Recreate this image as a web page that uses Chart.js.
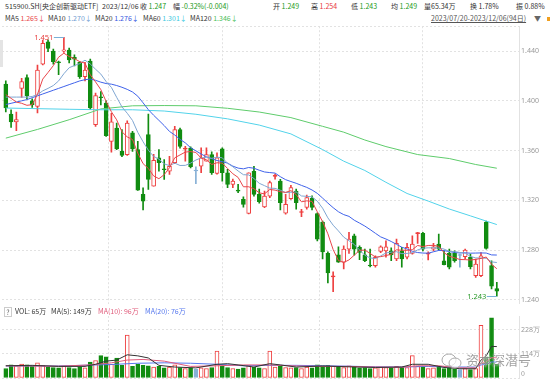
<!DOCTYPE html>
<html>
<head>
<meta charset="utf-8">
<script src="https://cdn.jsdelivr.net/npm/chart.js@4.4.1/dist/chart.umd.min.js"></script>
<style>
  body { margin:0; width:550px; height:381px; overflow:hidden; background:#fff; position:relative;
         font-family:"Noto Sans CJK SC","Noto Sans",sans-serif; }
  .t { position:absolute; font-size:7px; line-height:7px; white-space:nowrap; color:#333; }
  .g { color:#1a9a1a; } .r { color:#e8383d; }
  canvas { position:absolute; left:0; }
</style>
</head>
<body>
<!-- header row 1 -->
<div class="t" style="left:5px;top:3px">515900.SH[央企创新驱动ETF]</div>
<div class="t" style="left:102px;top:3px">2023/12/06</div>
<div class="t" style="left:140px;top:3px">收 <span class="g">1.247</span></div>
<div class="t" style="left:173px;top:3px">幅 <span class="g">-0.32%(-0.004)</span></div>
<div class="t" style="left:273px;top:3px">开 <span class="g">1.249</span></div>
<div class="t" style="left:311px;top:3px">高 <span class="r">1.254</span></div>
<div class="t" style="left:351px;top:3px">低 <span class="g">1.243</span></div>
<div class="t" style="left:391px;top:3px">均 <span class="g">1.249</span></div>
<div class="t" style="left:424px;top:3px">量65.34万</div>
<div class="t" style="left:470px;top:3px">换 1.78%</div>
<div class="t" style="left:516px;top:3px">振 0.88%</div>
<!-- header row 2 -->
<div class="t" style="left:5px;top:15px">MA5 <span style="color:#e8454a">1.265↓</span></div>
<div class="t" style="left:48px;top:15px">MA10 <span style="color:#6f9bd1">1.270↓</span></div>
<div class="t" style="left:95px;top:15px">MA20 <span style="color:#3355e0">1.276↓</span></div>
<div class="t" style="left:143px;top:15px">MA60 <span style="color:#3cc8e0">1.301↓</span></div>
<div class="t" style="left:190px;top:15px">MA120 <span style="color:#4cc05a">1.346↓</span></div>
<div class="t" style="left:431px;top:15px;color:#555;text-decoration:underline">2023/07/20-2023/12/06(94日)</div>
<div class="t" style="left:534px;top:15px;color:#666">▼</div>
<div style="position:absolute;left:547px;top:17px;width:3px;height:4px;background:#f0a020"></div>
<div style="position:absolute;left:0;top:40px;width:3px;height:27px;background:#e4e4e4"></div>

<canvas id="price" width="550" height="290" style="top:20px"></canvas>
<canvas id="vol" width="550" height="80" style="top:305px"></canvas>

<!-- volume header -->
<div class="t" style="left:4px;top:307px;border:1px solid #ccc;width:6px;height:8px;line-height:8px;text-align:center;color:#666">?</div>
<div class="t" style="left:15px;top:308px">VOL: 65万</div>
<div class="t" style="left:51px;top:308px">MA(5): 149万</div>
<div class="t" style="left:98px;top:308px;color:#e05a7a">MA(10): 96万</div>
<div class="t" style="left:145px;top:308px;color:#5577ee">MA(20): 76万</div>
<div class="t" style="left:521px;top:370px;color:#999">0</div>
<!-- watermark -->
<svg style="position:absolute;left:440px;top:352px" width="24" height="18">
  <ellipse cx="9" cy="8" rx="7" ry="6" fill="none" stroke="#aaa" stroke-width="1"/>
  <ellipse cx="15" cy="11" rx="6" ry="5" fill="rgba(255,255,255,0.7)" stroke="#aaa" stroke-width="1"/>
</svg>
<div class="t" style="left:466px;top:353px;font-size:13px;line-height:14px;color:rgba(110,110,110,0.65);text-shadow:0 0 2px #fff">资本深潜号</div>

<script>
// candles, index 0 = 2023/07/20 ... 93 = 2023/12/06
const opens = [1.4134,1.3894,1.383,1.410,1.4187,1.400,1.3954,1.4294,1.4474,1.440,
  1.4310,1.440,1.4408,1.4350,1.431,1.4194,1.432,1.3808,1.403,1.3982,
  1.3674,1.3781,1.3594,1.3568,1.3742,1.3608,1.3248,1.3728,1.3314,1.3542,
  1.3450,1.3434,1.3502,1.3768,1.3612,1.362,1.3436,1.3474,1.3514,1.3568,
  1.3416,1.3614,1.3422,1.3328,1.3278,1.3208,1.3094,1.3434,1.3248,1.3146,
  1.3234,1.3392,1.3354,1.3096,1.3214,1.3274,1.3102,1.3142,1.3216,1.3094,
  1.3026,1.2774,1.2584,1.2762,1.2702,1.2808,1.2914,1.2822,1.2762,1.2676,
  1.2674,1.2790,1.2794,1.2794,1.2728,1.2794,1.2742,1.2774,1.2932,1.2934,
  1.2768,1.2808,1.2848,1.2714,1.2774,1.2774,1.2756,1.2746,1.2742,1.2594,
  1.2594,1.3026,1.2676,1.249];
const highs = [1.416,1.3928,1.391,1.418,1.4208,1.4016,1.4288,1.4488,1.449,1.4416,
  1.432,1.451,1.4424,1.437,1.4315,1.431,1.4336,1.4062,1.4075,1.400,
  1.390,1.3822,1.3768,1.384,1.3755,1.3674,1.330,1.3894,1.357,1.3608,
  1.3528,1.3554,1.3794,1.378,1.3634,1.363,1.347,1.3622,1.3622,1.359,
  1.3582,1.3622,1.345,1.337,1.3328,1.3228,1.3422,1.3474,1.329,1.3274,
  1.3354,1.341,1.3368,1.3248,1.332,1.329,1.3128,1.3242,1.3236,1.3100,
  1.3034,1.2786,1.2626,1.2826,1.2834,1.2942,1.2928,1.2834,1.2808,1.2808,
  1.2754,1.2834,1.2874,1.2818,1.2888,1.2822,1.2854,1.2914,1.2942,1.2942,
  1.2786,1.2854,1.2928,1.2794,1.2808,1.2794,1.2768,1.2808,1.2768,1.2728,
  1.278,1.3034,1.2714,1.254];
const lows = [1.391,1.3786,1.376,1.4027,1.4016,1.3946,1.3902,1.4288,1.4395,1.4294,
  1.421,1.439,1.4304,1.428,1.418,1.416,1.3928,1.3794,1.3967,1.3714,
  1.3587,1.3608,1.355,1.3562,1.3594,1.328,1.3122,1.3288,1.3314,1.3434,
  1.3368,1.3408,1.3494,1.362,1.3514,1.346,1.3334,1.3422,1.3514,1.3408,
  1.341,1.3354,1.3302,1.3302,1.3262,1.3144,1.309,1.3234,1.3178,1.314,
  1.3222,1.337,1.3122,1.3088,1.3208,1.3128,1.3068,1.3128,1.3122,1.2874,
  1.2728,1.2536,1.2466,1.2701,1.2648,1.2774,1.276,1.2722,1.2706,1.2664,
  1.2662,1.278,1.2742,1.2714,1.2714,1.2662,1.2728,1.2768,1.2854,1.2794,
  1.2720,1.2794,1.280,1.268,1.2648,1.2702,1.2662,1.2728,1.2648,1.258,
  1.2586,1.2808,1.2488,1.243];
const closes = [1.3942,1.3830,1.3850,1.4155,1.4042,1.3968,1.4248,1.4462,1.4422,1.4315,
  1.4306,1.4410,1.4328,1.4335,1.4194,1.4248,1.3942,1.4042,1.4025,1.3720,
  1.3832,1.3614,1.3562,1.3822,1.3614,1.3282,1.3194,1.3368,1.3522,1.3502,
  1.3446,1.3474,1.3768,1.3634,1.3616,1.3470,1.3436,1.3542,1.3568,1.3422,
  1.3542,1.3422,1.3328,1.3354,1.3274,1.3168,1.3422,1.3248,1.3190,1.3234,
  1.3342,1.3396,1.3182,1.3168,1.3302,1.3182,1.3106,1.3222,1.3142,1.2888,
  1.2786,1.2616,1.2590,1.2702,1.2808,1.2888,1.2808,1.2782,1.2714,1.2672,
  1.2742,1.2826,1.2826,1.2762,1.2854,1.2728,1.2822,1.2848,1.2934,1.2808,
  1.2772,1.2826,1.2808,1.2682,1.2662,1.2714,1.2756,1.2800,1.2666,1.2688,
  1.2754,1.2814,1.2510,1.2470];

// moving averages
const ma5 = [1.405,1.402,1.399,1.398,1.3964,1.3969,1.4053,1.4175,1.4228,1.4283,
  1.4351,1.4383,1.4356,1.4339,1.4315,1.4303,1.4209,1.4152,1.4090,1.3995,
  1.3912,1.3847,1.3751,1.3710,1.3689,1.3579,1.3495,1.3456,1.3396,1.3374,
  1.3406,1.3462,1.3542,1.3565,1.3588,1.3592,1.3585,1.3540,1.3526,1.3488,
  1.3502,1.3499,1.3456,1.3414,1.3384,1.3309,1.3309,1.3293,1.3260,1.3252,
  1.3287,1.3282,1.3269,1.3264,1.3278,1.3246,1.3188,1.3196,1.3191,1.3108,
  1.3029,1.2931,1.2804,1.2716,1.2700,1.2721,1.2759,1.2798,1.2800,1.2773,
  1.2744,1.2747,1.2756,1.2766,1.2802,1.2799,1.2798,1.2803,1.2837,1.2828,
  1.2837,1.2838,1.2830,1.2779,1.2750,1.2738,1.2724,1.2723,1.2720,1.2725,
  1.2733,1.2744,1.2686,1.265];
const ma10 = [1.403,1.403,1.403,1.403,1.403,1.4035,1.405,1.408,1.410,1.4123,
  1.4160,1.4218,1.4266,1.4284,1.4299,1.4327,1.4296,1.4254,1.4215,1.4155,
  1.4108,1.4028,1.3951,1.3900,1.3842,1.3746,1.3671,1.3603,1.3553,1.3531,
  1.3493,1.3479,1.3499,1.3480,1.3481,1.3499,1.3524,1.3541,1.3546,1.3538,
  1.3547,1.3542,1.3498,1.3470,1.3436,1.3406,1.3404,1.3375,1.3337,1.3318,
  1.3298,1.3296,1.3281,1.3262,1.3265,1.3267,1.3235,1.3232,1.3228,1.3193,
  1.3137,1.3059,1.3000,1.2954,1.2904,1.2875,1.2845,1.2801,1.2758,1.2737,
  1.2732,1.2753,1.2777,1.2783,1.2787,1.2771,1.2773,1.2779,1.2801,1.2815,
  1.2818,1.2818,1.2816,1.2808,1.2789,1.2788,1.2781,1.2776,1.2749,1.2737,
  1.2736,1.2734,1.2705,1.270];
const ma20 = [1.397,1.398,1.399,1.400,1.401,1.4025,1.404,1.4055,1.407,1.4085,
  1.410,1.4115,1.413,1.4145,1.416,1.417,1.4175,1.4165,1.415,1.4139,
  1.4134,1.4123,1.4109,1.4092,1.4071,1.4037,1.3984,1.3929,1.3884,1.3843,
  1.3801,1.3754,1.3725,1.3690,1.3662,1.3623,1.3598,1.3572,1.3550,1.3535,
  1.3520,1.3511,1.3499,1.3475,1.3459,1.3453,1.3464,1.3458,1.3442,1.3428,
  1.3423,1.3419,1.3390,1.3366,1.3351,1.3337,1.3320,1.3304,1.3283,1.3256,
  1.3218,1.3178,1.3141,1.3108,1.3085,1.3071,1.3040,1.3017,1.2993,1.2965,
  1.2935,1.2906,1.2889,1.2869,1.2846,1.2823,1.2809,1.2790,1.2780,1.2776,
  1.2775,1.2786,1.2797,1.2796,1.2788,1.2780,1.2777,1.2778,1.2775,1.2776,
  1.2777,1.2776,1.2761,1.276];
const ma60Idx = [0,6,12,18,24,30,36,42,48,54,60,64,68,72,76,80,84,88,93];
const ma60 = [1.3942,1.3937,1.3932,1.3928,1.3928,1.3918,1.3892,1.3855,1.3805,1.3734,1.3608,1.3515,1.3440,1.3345,1.3255,1.3194,1.3130,1.3075,1.3005];
const ma120Idx = [0,6,12,18,24,30,36,42,48,54,60,64,68,72,78,84,89,93];
const ma120 = [1.370,1.377,1.3848,1.3935,1.396,1.3962,1.396,1.394,1.391,1.3865,1.3795,1.3748,1.3685,1.3632,1.3568,1.3536,1.3488,1.3458];

// volume, 万
const vols = [45,62,58,66,62,55,72,60,52,50,
  48,55,50,45,52,48,75,83,106,100,
  65,95,60,203,55,65,60,58,52,55,
  48,52,62,50,45,48,42,48,45,50,
  128,55,50,45,42,48,60,52,48,45,
  128,52,55,50,48,50,45,52,48,62,
  58,60,55,52,50,58,55,48,50,45,
  48,52,50,48,55,52,50,106,55,52,
  45,48,55,45,48,42,40,45,40,45,
  250,100,285,65];
const vma5Idx = [0,5,10,15,17,19,21,23,25,27,29,32,36,40,42,44,47,50,52,55,60,65,70,75,77,80,83,86,89,90,91,92,93];
const vma5 = [58,60,55,55,65,80,85,110,105,95,60,52,48,65,68,62,52,68,62,52,57,53,50,52,65,65,50,44,44,85,105,150,149];
const vma10Idx = [0,10,16,20,23,26,30,35,40,45,50,55,60,65,70,75,78,82,86,89,90,91,92,93];
const vma10 = [58,56,62,72,85,88,80,55,58,62,62,57,55,55,52,51,58,58,48,48,68,78,96,96];
const vma20Idx = [0,10,20,25,30,35,40,45,50,55,60,65,70,75,80,85,89,90,91,92,93];
const vma20 = [57,57,64,70,72,70,65,58,60,60,58,56,53,52,55,52,52,62,66,76,76];

const monthStarts = [8, 31, 51, 68, 90];
const priceTicks = [1.24, 1.28, 1.32, 1.36, 1.40, 1.44, 1.46];
const volTicks = [0, 114, 228];

const RED = '#ee4040', GREEN = '#118c11', FLAT = '#86b0d6';
const colorOf = i => closes[i] > opens[i] ? RED : (closes[i] < opens[i] ? GREEN : FLAT);
const colors = closes.map((_, i) => colorOf(i));
const fills = closes.map((c, i) => (c - opens[i] > 0.0008) ? '#ffffff' : colors[i]);

Chart.defaults.font.family = '"Noto Sans", sans-serif';
Chart.defaults.font.size = 7;

function xAxis() {
  return {
    type: 'linear', min: -0.72, max: 97.2, offset: false,
    afterBuildTicks: s => { s.ticks = monthStarts.map(v => ({ value: v })); },
    ticks: { display: false },
    grid: { color: '#e2e2e2', drawTicks: false },
    border: { display: false, dash: [2, 2] }
  };
}
function line(data, color, idx) {
  return {
    type: 'line', data: data.map((v, i) => ({ x: idx ? idx[i] : i, y: v })),
    borderColor: color, borderWidth: 1, pointRadius: 0, tension: 0, fill: false
  };
}

// high / low markers
const hiVal = Math.max(...highs), hiIdx = highs.indexOf(hiVal);
const loVal = Math.min(...lows), loIdx = lows.indexOf(loVal);
const marks = {
  id: 'marks',
  afterDatasetsDraw(chart) {
    const { ctx, scales: { x, y } } = chart;
    ctx.save();
    ctx.font = '7.5px "Noto Sans"';
    ctx.textAlign = 'right'; ctx.textBaseline = 'middle';
    [[hiIdx, hiVal, '#e84040'], [loIdx, loVal, '#2a9a2a']].forEach(([i, v, c]) => {
      const px = x.getPixelForValue(i), py = Math.round(y.getPixelForValue(v)) + 0.5;
      ctx.strokeStyle = '#7ab0d8'; ctx.lineWidth = 1;
      ctx.beginPath(); ctx.moveTo(px - 10, py); ctx.lineTo(px, py); ctx.stroke();
      ctx.fillStyle = c;
      ctx.fillText(v.toFixed(3), px - 10.5, py);
    });
    ctx.restore();
  }
};

new Chart(document.getElementById('price'), {
  data: {
    datasets: [
      line(ma5, '#e8454a'),
      line(ma10, '#7fa6d2'),
      line(ma20, '#3f62ea'),
      line(ma60, '#52d3ea', ma60Idx),
      line(ma120, '#5fcc6c', ma120Idx),
      {
        type: 'bar', grouped: false, barThickness: 4, minBarLength: 1,
        data: opens.map((o, i) => ({ x: i, y: [Math.min(o, closes[i]), Math.max(o, closes[i])] })),
        backgroundColor: fills, borderColor: colors, borderWidth: 1, borderSkipped: false
      },
      {
        type: 'bar', grouped: false, barThickness: 1,
        data: highs.map((h, i) => ({ x: i, y: [lows[i], h] })),
        backgroundColor: colors
      }
    ]
  },
  options: {
    responsive: false, animation: false,
    layout: { padding: { top: 6, bottom: 5, left: 2, right: 0 } },
    plugins: { legend: { display: false }, tooltip: { enabled: false } },
    scales: {
      x: xAxis(),
      y: {
        position: 'right', min: 1.2368, max: 1.46,
        afterBuildTicks: s => { s.ticks = priceTicks.map(v => ({ value: v })); },
        afterFit: s => { s.width = 31; },
        ticks: { callback: v => Math.abs(v - 1.46) < 1e-6 ? '' : v.toFixed(3), color: '#999', padding: 2 },
        grid: { color: '#e2e2e2', drawTicks: false },
        border: { display: true, color: '#e2e2e2', dash: [2, 2] }
      }
    }
  },
  plugins: [marks]
});

new Chart(document.getElementById('vol'), {
  data: {
    datasets: [
      line(vma5, '#333333', vma5Idx),
      line(vma10, '#e05a7a', vma10Idx),
      line(vma20, '#5577ee', vma20Idx),
      {
        type: 'bar', grouped: false, barThickness: 4,
        data: vols.map((v, i) => ({ x: i, y: v })),
        backgroundColor: closes.map((c, i) => c > opens[i] ? '#ffffff' : colors[i]),
        borderColor: colors, borderWidth: 1, borderSkipped: false
      }
    ]
  },
  options: {
    responsive: false, animation: false,
    layout: { padding: { top: 11, bottom: 7, left: 2, right: 0 } },
    plugins: { legend: { display: false }, tooltip: { enabled: false } },
    scales: {
      x: xAxis(),
      y: {
        position: 'right', min: 0, max: 294,
        afterBuildTicks: s => { s.ticks = volTicks.map(v => ({ value: v })); },
        afterFit: s => { s.width = 31; },
        ticks: { callback: v => v === 0 ? '' : v + '万', color: '#999', padding: 2 },
        grid: { color: '#e2e2e2', drawTicks: false },
        border: { display: true, color: '#e2e2e2', dash: [2, 2] }
      }
    }
  }
});
</script>
</body>
</html>
